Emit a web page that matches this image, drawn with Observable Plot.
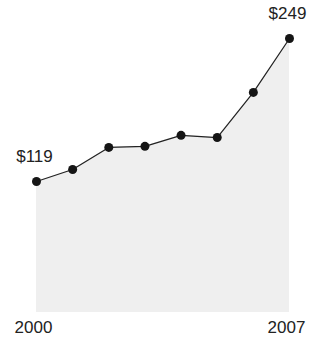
<!DOCTYPE html>
<html><head><meta charset="utf-8">
<script src="https://cdn.jsdelivr.net/npm/d3@7"></script>
<script src="https://cdn.jsdelivr.net/npm/@observablehq/plot@0.6"></script>
<style>body{margin:0;background:#fff;font-family:Arial,"Liberation Sans",sans-serif}</style>
</head><body><div id="chart"></div>
<script>
const years = [2000, 2001, 2002, 2003, 2004, 2005, 2006, 2007];
const values = [119, 130, 150, 151, 161, 159, 200, 249];
const labelYears = [2000, 2007];
const labelTexts = ["$119", "$249"];
const labelValues = [119, 249];

const data = years.map((y, i) => ({year: y, value: values[i]}));
const labels = labelYears.map((y, i) => ({year: y, value: labelValues[i], text: labelTexts[i]}));

const chart = Plot.plot({
  width: 316, height: 339,
  marginLeft: 36, marginRight: 27, marginTop: 38, marginBottom: 27,
  style: {fontFamily: "Arial, 'Liberation Sans', sans-serif", background: "#fff"},
  x: {domain: [2000, 2007], axis: null},
  y: {domain: [0, 249], axis: null},
  marks: [
    Plot.areaY(data, {x: "year", y: "value", fill: "#efefef"}),
    Plot.line(data, {x: "year", y: "value", stroke: "#222", strokeWidth: 1.2}),
    Plot.dot(data, {x: "year", y: "value", r: 4.5, fill: "#151515", stroke: "none"}),
    Plot.text(labels, {x: "year", y: "value", text: "text", dy: -25, dx: -2, fontSize: 17, fill: "#222"}),
    Plot.axisX({ticks: labelYears, tickFormat: d => String(d), tickSize: 0, tickPadding: 8, fontSize: 17, color: "#222", label: null, dx: -3})
  ]
});
document.getElementById("chart").appendChild(chart);
</script></body></html>
